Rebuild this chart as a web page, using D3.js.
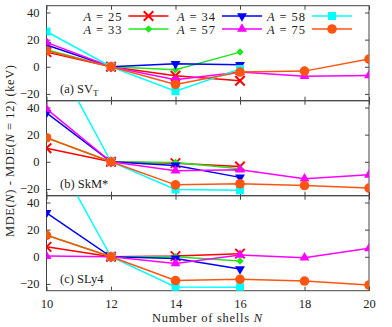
<!DOCTYPE html>
<html>
<head>
<meta charset="utf-8">
<script src="https://cdn.jsdelivr.net/npm/d3@7"></script>
<style>
  body { margin: 0; background: #fff; }
  text { font-family: "Liberation Serif", "DejaVu Serif", serif; fill: #222; }
</style>
</head>
<body>
<div id="chart"></div>
<script>
// number of shells for the short (A=25,33,34,58) and long (A=57,75) runs
var shortShells = [10, 12, 14, 16];
var longShells = [10, 12, 14, 16, 18, 20];
var xTicks = [10, 12, 14, 16, 18, 20];
var yTicks = [40, 20, 0, -20];

var massNumbers = ["25", "33", "34", "57", "58", "75"];
var seriesColors = ["#ff0000", "#1fe81f", "#0000ff", "#ff00ff", "#00ffff", "#ff5511"];
var seriesSymbols = ["x", "diamond", "triDown", "triUp", "square", "circle"];

// (a) SV_T
var svt25 = [10.8, 0, -6.6, -10.3];
var svt33 = [12.5, 0, -2.2, 10.8];
var svt34 = [16, 0, 2.2, 1.5];
var svt57 = [18, 0, -9.5, -3.9, -6.9, -6.4];
var svt58 = [26, 0, -18, -1.7];
var svt75 = [11.8, 0, -13, -3.9, -3.2, 5.7];

// (b) SkM*
var skm25 = [10, 0, -1, -3.5];
var skm33 = [17.7, 0, -0.5, -5.2];
var skm34 = [36, 0, -2.7, -11.5];
var skm57 = [39, 0, -6.6, -5.9, -12.5, -9.6];
var skm58 = [88, 0, -20.4, -21];
var skm75 = [17.7, 0, -17, -16.2, -17.5, -19.4];

// (c) SLy4
var sly25 = [7.3, 0, 0.5, 2.3];
var sly33 = [16, 0, 0, -3.2];
var sly34 = [32.4, 0, -1.2, -9];
var sly57 = [0.5, 0, -4.9, 1.3, -0.7, 6.2];
var sly58 = [86, 0, -22.3, -22.5];
var sly75 = [15.8, 0, -17.5, -16.6, -17.9, -20.8];

var panels = [
  { tag: "(a) SV", sub: "T", series: [svt25, svt33, svt34, svt57, svt58, svt75] },
  { tag: "(b) SkM*", sub: "", series: [skm25, skm33, skm34, skm57, skm58, skm75] },
  { tag: "(c) SLy4", sub: "", series: [sly25, sly33, sly34, sly57, sly58, sly75] }
];

var svgWidth = 392, svgHeight = 327;
var plotLeft = 46.5, plotRight = 369, plotTop = 5.7, panelH = 95;
var axisColor = "#444";

var svg = d3.select("#chart").append("svg")
  .attr("width", svgWidth)
  .attr("height", svgHeight);

var x = d3.scaleLinear().domain([10, 20]).range([plotLeft, plotRight]);

// symbol shapes
var xShape = {
  draw: function (ctx, size) {
    var r = Math.sqrt(size) / 2;
    ctx.moveTo(-r, -r); ctx.lineTo(r, r);
    ctx.moveTo(r, -r); ctx.lineTo(-r, r);
  }
};
function markerPath(kind) {
  if (kind == "x") return d3.symbol(xShape, 90)();
  if (kind == "diamond") return d3.symbol(d3.symbolSquare, 28)();
  if (kind == "triDown" || kind == "triUp") return d3.symbol(d3.symbolTriangle, 42)();
  if (kind == "square") return d3.symbol(d3.symbolSquare, 64)();
  return d3.symbol(d3.symbolCircle, 72)();
}
function markerRotate(kind) {
  if (kind == "diamond") return 45;
  if (kind == "triDown") return 180;
  return 0;
}
function drawMarker(g, kind, color, cx, cy) {
  var p = g.append("path")
    .attr("d", markerPath(kind))
    .attr("transform", "translate(" + cx + "," + cy + ") rotate(" + markerRotate(kind) + ")");
  if (kind == "x") {
    p.attr("fill", "none").attr("stroke", color).attr("stroke-width", 2);
  } else {
    p.attr("fill", color);
  }
}

panels.forEach(function (panel, pi) {
  var y0 = plotTop + pi * panelH;
  var y = d3.scaleLinear().domain([-25, 45]).range([y0 + panelH, y0]);

  var g = svg.append("g").attr("class", "panel");

  svg.append("clipPath").attr("id", "clip" + pi)
    .append("rect")
    .attr("x", plotLeft).attr("y", y0)
    .attr("width", plotRight - plotLeft).attr("height", panelH);

  // inward ticks on all four sides
  var bottomAxis = d3.axisBottom(x).tickValues(xTicks).tickSizeInner(-4).tickSizeOuter(0).tickPadding(8);
  if (pi < 2) bottomAxis.tickFormat("");
  g.append("g").attr("transform", "translate(0," + (y0 + panelH) + ")").call(bottomAxis);
  g.append("g").attr("transform", "translate(0," + y0 + ")")
    .call(d3.axisTop(x).tickValues(xTicks).tickSizeInner(-4).tickSizeOuter(0).tickFormat(""));
  g.append("g").attr("transform", "translate(" + plotLeft + ",0)")
    .call(d3.axisLeft(y).tickValues(yTicks).tickSizeInner(-4).tickSizeOuter(0).tickPadding(7));
  g.append("g").attr("transform", "translate(" + plotRight + ",0)")
    .call(d3.axisRight(y).tickValues(yTicks).tickSizeInner(-4).tickSizeOuter(0).tickFormat(""));

  g.selectAll(".domain").remove();
  g.selectAll(".tick line").attr("stroke", axisColor);
  g.selectAll(".tick text").attr("font-size", 12.5).attr("fill", "#222")
    .style("font-family", '"Liberation Serif", serif');

  g.append("rect")
    .attr("x", plotLeft).attr("y", y0)
    .attr("width", plotRight - plotLeft).attr("height", panelH)
    .attr("fill", "none").attr("stroke", axisColor).attr("stroke-width", 1);

  // panel label
  var lab = g.append("text").attr("x", 60).attr("y", y0 + panelH - 8).attr("font-size", 12.5);
  lab.append("tspan").text(panel.tag);
  if (panel.sub) lab.append("tspan").attr("dy", 3).attr("font-size", 9).text(panel.sub);

  var plot = g.append("g").attr("clip-path", "url(#clip" + pi + ")");
  var line = d3.line().x(function (d) { return x(d[0]); }).y(function (d) { return y(d[1]); });

  panel.series.forEach(function (vals, si) {
    var shells = vals.length == 4 ? shortShells : longShells;
    var pts = vals.map(function (v, i) { return [shells[i], v]; });
    plot.append("path").datum(pts)
      .attr("d", line)
      .attr("fill", "none")
      .attr("stroke", seriesColors[si])
      .attr("stroke-width", 1.5);
    pts.forEach(function (p) {
      drawMarker(plot, seriesSymbols[si], seriesColors[si], x(p[0]), y(p[1]));
    });
  });
});

// legend (two rows, three columns) in panel (a)
var legendCols = [121.5, 215, 305];
var legendRows = [16, 29];
var legend = svg.append("g").attr("class", "legend");
massNumbers.forEach(function (a, i) {
  var col = Math.floor(i / 2), row = i % 2;
  var tx = legendCols[col], ty = legendRows[row];
  var t = legend.append("text")
    .attr("x", tx).attr("y", ty + 4.5)
    .attr("text-anchor", "end")
    .attr("font-size", 12.5)
    .attr("textLength", 38)
    .attr("lengthAdjust", "spacing");
  t.append("tspan").attr("font-style", "italic").text("A");
  t.append("tspan").text(" = " + a);
  legend.append("line")
    .attr("x1", tx + 7).attr("x2", tx + 47)
    .attr("y1", ty).attr("y2", ty)
    .attr("stroke", seriesColors[i]).attr("stroke-width", 1.5);
  drawMarker(legend, seriesSymbols[i], seriesColors[i], tx + 27, ty);
});

// axis titles
var xl = svg.append("text")
  .attr("x", 207).attr("y", 322)
  .attr("text-anchor", "middle")
  .attr("font-size", 12.5)
  .attr("textLength", 110)
  .attr("lengthAdjust", "spacing");
xl.append("tspan").text("Number of shells ");
xl.append("tspan").attr("font-style", "italic").text("N");

var yl = svg.append("text")
  .attr("transform", "translate(14,151) rotate(-90)")
  .attr("text-anchor", "middle")
  .attr("font-size", 12.5)
  .attr("textLength", 172)
  .attr("lengthAdjust", "spacing");
yl.append("tspan").text("MDE(");
yl.append("tspan").attr("font-style", "italic").text("N");
yl.append("tspan").text(") - MDE(");
yl.append("tspan").attr("font-style", "italic").text("N");
yl.append("tspan").text(" = 12) (keV)");
</script>
</body>
</html>
